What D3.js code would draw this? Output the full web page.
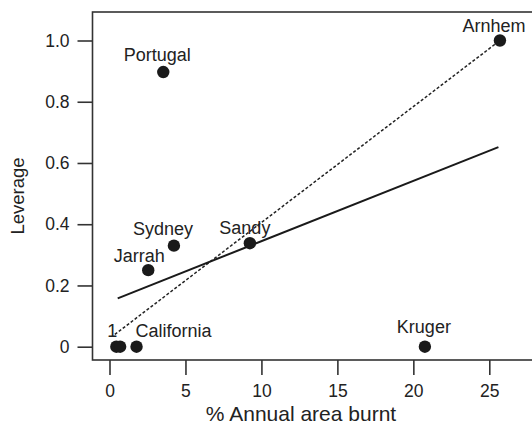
<!DOCTYPE html>
<html>
<head>
<meta charset="utf-8">
<script src="https://cdn.jsdelivr.net/npm/d3@7"></script>
<style>
  body { margin: 0; background: #fff; }
  svg { display: block; font-family: "Liberation Sans", Arial, Helvetica, sans-serif; }
</style>
</head>
<body>
<svg id="chart" width="532" height="430"></svg>
<script>
// ---- data ----
const sites = ["1", "1", "California", "Jarrah", "Portugal", "Sydney", "Sandy", "Kruger", "Arnhem"];
const burnt = [0.45, 0.7, 1.78, 2.55, 3.54, 4.24, 9.24, 20.76, 25.7];
const leverage = [0, 0, 0, 0.25, 0.897, 0.33, 0.338, 0, 1.0];
const showLabel = [true, false, true, true, true, true, true, true, true];
const xTicks = [0, 5, 10, 15, 20, 25];
const yTicks = [0, 0.2, 0.4, 0.6, 0.8, 1.0];
const yTickLabels = ["0", "0.2", "0.4", "0.6", "0.8", "1.0"];
const solidFitX = [0.54, 25.6];
const solidFitY = [0.158, 0.652];
const dashedFitX = [0.35, 25.7];
const dashedFitY = [0.04, 1.0];

(function () {
// ---- layout (label nudges, px) ----
const labelNudge = {
  "1": [-4, -10], "California": [37, -10], "Jarrah": [-9, -8], "Portugal": [-6, -11],
  "Sydney": [-11, -11], "Sandy": [-5, -9], "Kruger": [-1, -14], "Arnhem": [-6, -9]
};

const svg = d3.select("#chart");
const mLeft = 92.5, mTop = 12, mBottom = 360, mRight = 545;

const x = d3.scaleLinear().domain([0, 25]).range([109.5, 489.3]);
const y = d3.scaleLinear().domain([0, 1]).range([346.7, 40.5]);

const ink = "#1a1a1a";

// axes
const xAxis = svg.append("g")
  .attr("transform", `translate(0,${mBottom})`)
  .call(d3.axisBottom(x).tickValues(xTicks).tickSize(15).tickPadding(10).tickFormat(d3.format("d")));
const yAxis = svg.append("g")
  .attr("transform", `translate(${mLeft},0)`)
  .call(d3.axisLeft(y).tickValues(yTicks).tickSize(15).tickPadding(8)
    .tickFormat((d, i) => yTickLabels[i]));
[xAxis, yAxis].forEach(g => {
  g.select(".domain").remove();
  g.selectAll(".tick line").attr("stroke", "#333").attr("stroke-width", 1.6);
  g.selectAll(".tick text").attr("fill", "#222").style("font-size", "17.5px")
    .style("font-family", '"Liberation Sans", Arial, sans-serif');
});

// box
svg.append("rect")
  .attr("x", mLeft).attr("y", mTop)
  .attr("width", mRight - mLeft).attr("height", mBottom - mTop)
  .attr("fill", "none").attr("stroke", "#333").attr("stroke-width", 1.6);

// fitted lines
const line = d3.line().x(d => x(d[0])).y(d => y(d[1]));
svg.append("path")
  .datum(dashedFitX.map((v, i) => [v, dashedFitY[i]]))
  .attr("d", line).attr("fill", "none").attr("stroke", "#222")
  .attr("stroke-width", 1.5).attr("stroke-dasharray", "3,2");
svg.append("path")
  .datum(solidFitX.map((v, i) => [v, solidFitY[i]]))
  .attr("d", line).attr("fill", "none").attr("stroke", ink)
  .attr("stroke-width", 2);

// points
const pts = sites.map((s, i) => ({ s, x: burnt[i], y: leverage[i], lab: showLabel[i] }));
svg.append("g").selectAll("circle").data(pts).join("circle")
  .attr("cx", d => x(d.x)).attr("cy", d => y(d.y)).attr("r", 6.2).attr("fill", ink);

// labels
svg.append("g").selectAll("text").data(pts.filter(d => d.lab)).join("text")
  .attr("x", d => x(d.x) + labelNudge[d.s][0])
  .attr("y", d => y(d.y) + labelNudge[d.s][1])
  .attr("text-anchor", "middle")
  .attr("fill", "#222")
  .style("font-size", "18px")
  .text(d => d.s);

// axis titles
svg.append("text")
  .attr("x", 301).attr("y", 421)
  .attr("text-anchor", "middle").attr("fill", "#222")
  .style("font-size", "21px")
  .text("% Annual area burnt");
svg.append("text")
  .attr("transform", "translate(24,196) rotate(-90)")
  .attr("text-anchor", "middle").attr("fill", "#222")
  .style("font-size", "18.5px")
  .text("Leverage");
})();
</script>
</body>
</html>
